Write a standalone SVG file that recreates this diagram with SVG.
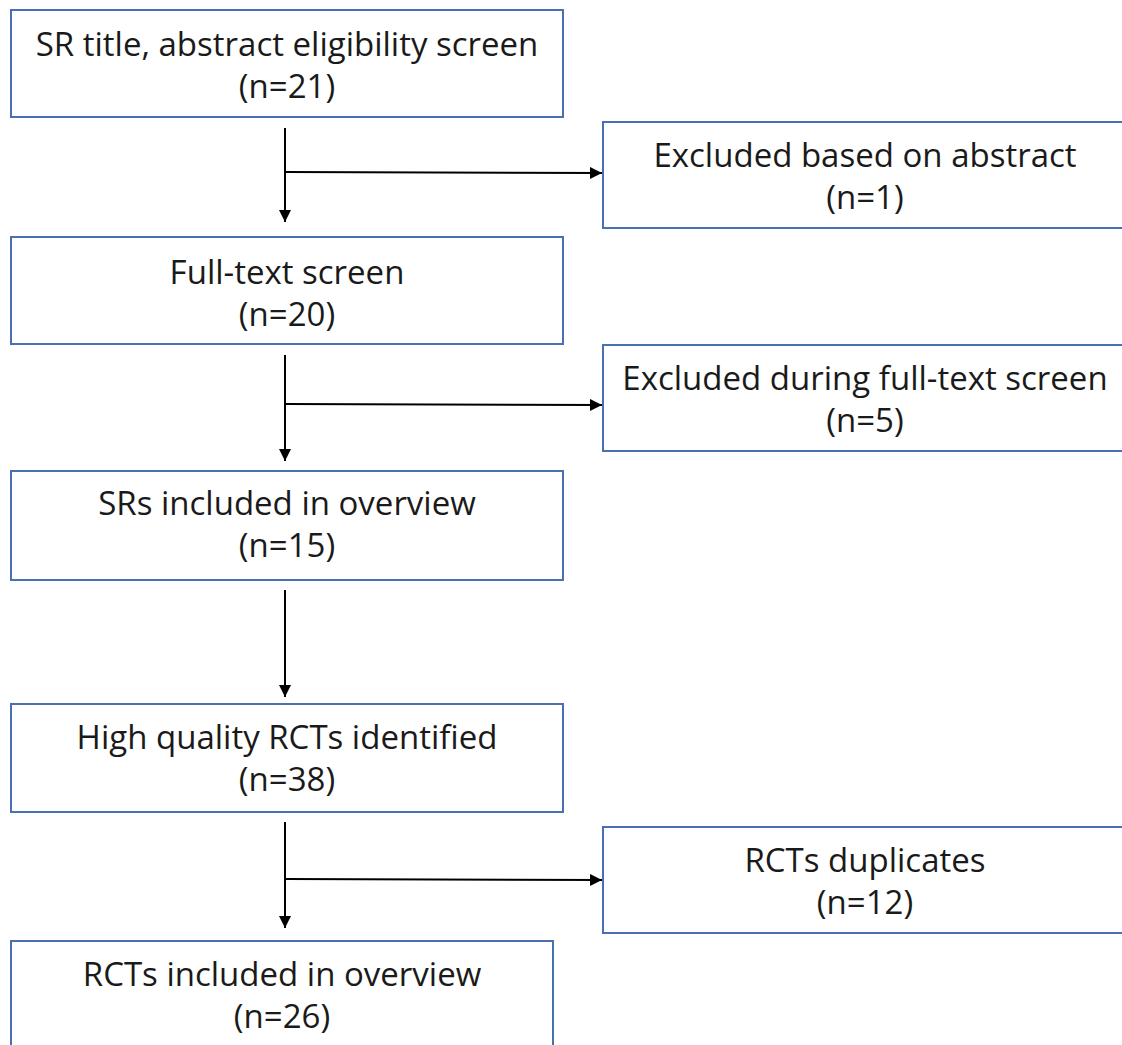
<svg xmlns="http://www.w3.org/2000/svg" width="1122" height="1045" viewBox="0 0 1122 1045">
<style>
.box{fill:#ffffff;stroke:#4a6fb5;stroke-width:2}
.t{font-family:"Open Sans","Liberation Sans",sans-serif;font-size:33px;fill:#1a1a1a;text-anchor:middle}
.c{stroke:#000;stroke-width:2;fill:none}
</style>
<defs>
<marker id="ah" viewBox="0 0 10 10" refX="10" refY="5" markerWidth="6" markerHeight="6" markerUnits="strokeWidth" orient="auto">
<path d="M0,0 L10,5 L0,10 z" fill="#000"/>
</marker>
</defs>
<rect width="1122" height="1045" fill="#ffffff"/>
<g id="connectors">
<line class="c" x1="285" y1="128" x2="285" y2="222" marker-end="url(#ah)"/>
<line class="c" x1="285" y1="172" x2="602" y2="173" marker-end="url(#ah)"/>
<line class="c" x1="285" y1="355" x2="285" y2="461" marker-end="url(#ah)"/>
<line class="c" x1="285" y1="404" x2="602" y2="405" marker-end="url(#ah)"/>
<line class="c" x1="285" y1="590" x2="285" y2="697" marker-end="url(#ah)"/>
<line class="c" x1="285" y1="822" x2="285" y2="928" marker-end="url(#ah)"/>
<line class="c" x1="285" y1="879" x2="602" y2="880" marker-end="url(#ah)"/>
</g>
<g id="n1"><rect class="box" x="11" y="10" width="552" height="107"/>
<text class="t" x="287" y="56">SR title, abstract eligibility screen</text>
<text class="t" x="287" y="98">(n=21)</text></g>
<g id="n2"><rect class="box" x="11" y="237" width="552" height="107"/>
<text class="t" x="287" y="284">Full-text screen</text>
<text class="t" x="287" y="326">(n=20)</text></g>
<g id="n3"><rect class="box" x="11" y="471" width="552" height="109"/>
<text class="t" x="287" y="515">SRs included in overview</text>
<text class="t" x="287" y="557">(n=15)</text></g>
<g id="n4"><rect class="box" x="11" y="704" width="552" height="108"/>
<text class="t" x="287" y="749">High quality RCTs identified</text>
<text class="t" x="287" y="791">(n=38)</text></g>
<g id="n5"><rect class="box" x="11" y="941" width="542" height="110"/>
<text class="t" x="282" y="986">RCTs included in overview</text>
<text class="t" x="282" y="1028">(n=26)</text></g>
<g id="r1"><rect class="box" x="603" y="122" width="530" height="106"/>
<text class="t" x="865" y="167">Excluded based on abstract</text>
<text class="t" x="865" y="209">(n=1)</text></g>
<g id="r2"><rect class="box" x="603" y="345" width="530" height="106"/>
<text class="t" x="865" y="390">Excluded during full-text screen</text>
<text class="t" x="865" y="432">(n=5)</text></g>
<g id="r3"><rect class="box" x="603" y="827" width="530" height="106"/>
<text class="t" x="865" y="872">RCTs duplicates</text>
<text class="t" x="865" y="914">(n=12)</text></g>
</svg>
